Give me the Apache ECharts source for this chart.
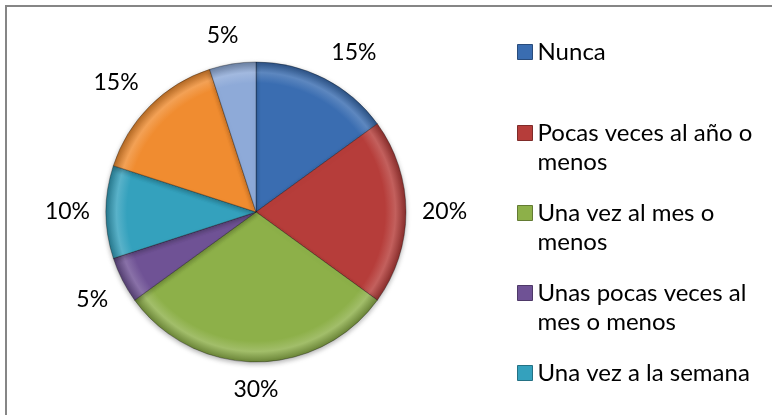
<!DOCTYPE html>
<html>
<head>
<meta charset="utf-8">
<script src="https://cdn.jsdelivr.net/npm/echarts@6/dist/echarts.min.js"></script>
<style>
  html, body { margin: 0; padding: 0; background: #fff; }
  #chart { width: 772px; height: 415px; }
</style>
</head>
<body>
<div id="chart"></div>
<script>
// datos
const categories = [
  "Nunca",
  "Pocas veces al año o menos",
  "Una vez al mes o menos",
  "Unas pocas veces al mes o menos",
  "Una vez a la semana",
  "Pocas veces a la semana",
  "Todos los días"
];
const values = [15, 20, 30, 5, 10, 15, 5];
// only the first five fit in the legend box
const legendLabels = [
  "Nunca",
  "Pocas veces al año o\nmenos",
  "Una vez al mes o\nmenos",
  "Unas pocas veces al\nmes o menos",
  "Una vez a la semana"
];
const colors = ["#3a6db1", "#b63d3a", "#8db049", "#6f5295", "#34a1bd", "#f08c30", "#8eaad8"];

const FONT = "Lato";
const center = [256, 212];
const radius = 150;
const lineH = 29;
const legendLine1 = [52, 133, 213, 293, 373]; // y of first text line
const labelGap = 16;

function shade(hex, f) {
  let n = parseInt(hex.slice(1), 16);
  let r = (n >> 16) & 255, g = (n >> 8) & 255, b = n & 255;
  const m = c => Math.round(f > 0 ? c + (255 - c) * f : c * (1 + f));
  return "rgb(" + m(r) + "," + m(g) + "," + m(b) + ")";
}

function sliceColor(c) {
  return {
    type: "radial", x: center[0], y: center[1], r: radius, global: true,
    colorStops: [
      { offset: 0, color: c },
      { offset: 0.86, color: c },
      { offset: 0.93, color: shade(c, 0.18) },
      { offset: 1, color: shade(c, -0.25) }
    ]
  };
}

const clamp1 = v => Math.max(-1, Math.min(1, v));

// put label box just outside the rim, corner towards the slice (like excel)
function placeLabel(p) {
  const lr = p.labelRect;
  let dx = lr.x + lr.width / 2 - center[0];
  let dy = lr.y + lr.height / 2 - center[1];
  const len = Math.sqrt(dx * dx + dy * dy) || 1;
  dx /= len; dy /= len;
  const d = radius + labelGap;
  return {
    x: center[0] + dx * d + clamp1(dx * 3) * lr.width / 2,
    y: center[1] + dy * d + clamp1(dy * 3) * 12,
    align: "center",
    verticalAlign: "middle"
  };
}

const chart = echarts.init(document.getElementById("chart"));

const legends = legendLabels.map((lab, i) => {
  const n = lab.split("\n").length;
  return {
    orient: "vertical",
    left: 517,
    top: legendLine1[i] - (2 * n - 1) * lineH / 2,
    padding: 0,
    itemWidth: 15,
    itemHeight: 15,
    icon: "rect",
    selectedMode: false,
    data: [{ name: categories[i], itemStyle: { color: colors[i], borderColor: shade(colors[i], -0.3), borderWidth: 1 } }],
    // leading blank lines keep the icon next to the first line
    formatter: name => {
      const t = legendLabels[categories.indexOf(name)];
      return "\n".repeat(t.split("\n").length - 1) + t;
    },
    textStyle: { fontFamily: FONT, fontSize: 24, color: "#000", lineHeight: lineH }
  };
});

chart.setOption({
  animation: false,
  backgroundColor: "#fff",
  legend: legends,
  graphic: [{
    type: "rect",
    shape: { x: 6, y: 6, width: 800, height: 500 },
    style: { fill: "none", stroke: "#868686", lineWidth: 2 },
    silent: true
  }],
  series: [
    {
      type: "pie",
      center: center,
      radius: radius,
      startAngle: 90,
      clockwise: true,
      silent: true,
      label: {
        show: true,
        position: "inside",
        formatter: "{c}%",
        fontFamily: FONT,
        fontSize: 23,
        color: "#000"
      },
      labelLine: { show: false },
      labelLayout: placeLabel,
      data: categories.map((name, i) => ({
        name: name,
        value: values[i],
        itemStyle: {
          color: sliceColor(colors[i]),
          borderColor: "rgba(0,0,0,0.3)",
          borderWidth: 1,
          shadowColor: "rgba(0,0,0,0.3)",
          shadowBlur: 5,
          shadowOffsetY: 2
        }
      }))
    }
  ]
});
</script>
</body>
</html>
